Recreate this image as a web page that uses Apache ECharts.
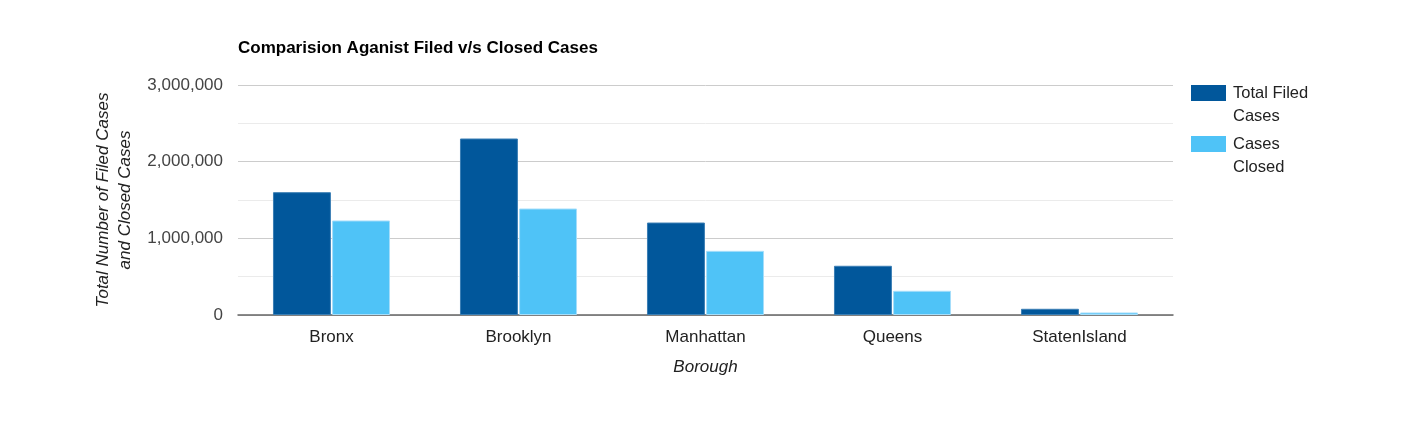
<!DOCTYPE html>
<html>
<head>
<meta charset="utf-8">
<script src="https://cdn.jsdelivr.net/npm/echarts@6/dist/echarts.min.js"></script>
<style>
html,body{margin:0;padding:0;background:#fff;}
#chart{width:1401px;height:427px;}
</style>
</head>
<body>
<div id="chart"></div>
<script>
var categories = ['Bronx', 'Brooklyn', 'Manhattan', 'Queens', 'StatenIsland'];
var filedCases = [1602000, 2302000, 1206000, 642000, 81000];
var closedCases = [1233000, 1389000, 837000, 316000, 33000];
var seriesNames = ['Total Filed Cases', 'Cases Closed'];
var yTicks = [0, 1000000, 2000000, 3000000];

var FONT = '"Liberation Sans", Arial, sans-serif';
var chart = echarts.init(document.getElementById('chart'));
var legendText = {
  'Total Filed Cases': ' \nTotal Filed\nCases',
  'Cases Closed': ' \nCases\nClosed'
};
function legendCfg(name, top) {
  return {
    data: [name],
    orient: 'vertical',
    left: 1191,
    top: top,
    padding: 0,
    itemWidth: 35,
    itemHeight: 16,
    icon: 'rect',
    itemGap: 0,
    selectedMode: false,
    itemStyle: {borderWidth: 0},
    formatter: function (n) { return legendText[n]; },
    textStyle: {
      fontFamily: FONT, fontSize: 16.5, color: '#222', lineHeight: 23,
      padding: [0, 0, 0, 2]
    }
  };
}
chart.setOption({
  animation: false,
  title: {
    text: 'Comparision Aganist Filed v/s Closed Cases',
    left: 233, top: 35,
    textStyle: {fontFamily: FONT, fontSize: 17, fontWeight: 'bold', color: '#000'}
  },
  legend: [legendCfg(seriesNames[0], 58.5), legendCfg(seriesNames[1], 109.5)],
  grid: {left: 238, right: 228, top: 85, bottom: 112},
  xAxis: {
    type: 'category',
    data: categories,
    axisTick: {show: false},
    axisLine: {lineStyle: {color: '#666', width: 1.5}},
    axisLabel: {fontFamily: FONT, fontSize: 17, color: '#222', margin: 14},
    name: 'Borough',
    nameLocation: 'middle',
    nameGap: 44,
    nameTextStyle: {fontFamily: FONT, fontSize: 17, fontStyle: 'italic', color: '#222'}
  },
  yAxis: {
    type: 'value',
    min: yTicks[0],
    max: yTicks[yTicks.length - 1],
    interval: yTicks[1] - yTicks[0],
    axisLine: {show: false},
    axisTick: {show: false},
    axisLabel: {
      fontFamily: FONT, fontSize: 17, color: '#444', margin: 15,
      formatter: function (v) { return v.toLocaleString('en-US'); }
    },
    splitLine: {lineStyle: {color: '#cccccc', width: 1}},
    minorTick: {show: false, splitNumber: 2},
    minorSplitLine: {show: true, lineStyle: {color: '#ebebeb', width: 1}},
    name: 'Total Number of Filed Cases\nand Closed Cases',
    nameLocation: 'middle',
    nameRotate: 90,
    nameGap: 101,
    nameTextStyle: {fontFamily: FONT, fontSize: 17, fontStyle: 'italic', color: '#222', lineHeight: 22}
  },
  series: [
    {
      name: seriesNames[0], type: 'bar', data: filedCases,
      barCategoryGap: '37.4%', barGap: '2%',
      itemStyle: {color: '#01579b', borderColor: '#3b7fb5', borderWidth: 1}
    },
    {
      name: seriesNames[1], type: 'bar', data: closedCases,
      barCategoryGap: '37.4%', barGap: '2%',
      itemStyle: {color: '#4fc3f7', borderColor: '#a6defa', borderWidth: 1}
    }
  ]
});
</script>
</body>
</html>
